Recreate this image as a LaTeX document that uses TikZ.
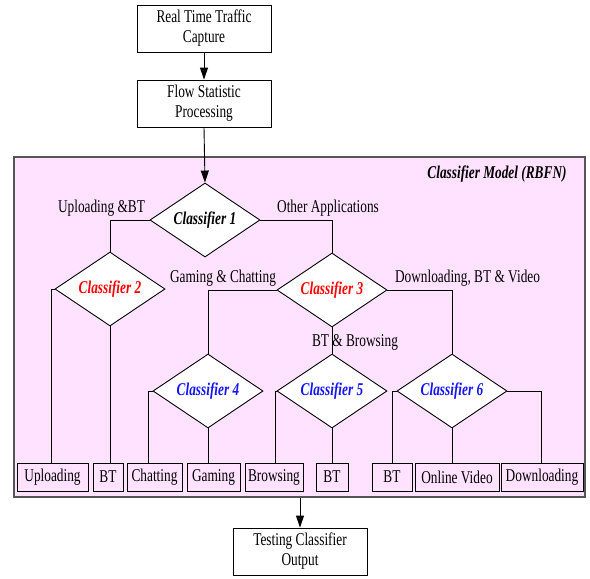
\documentclass[tikz,border=0pt]{standalone}
\usepackage{fontspec}
\setmainfont[FakeStretch=0.74]{Liberation Serif}
\usetikzlibrary{shapes.geometric,arrows.meta}
\definecolor{pinkbg}{RGB}{255,226,255}
\definecolor{framegray}{RGB}{85,85,85}
\definecolor{cred}{RGB}{255,0,0}
\definecolor{cblue}{RGB}{20,20,255}
\begin{document}
\begin{tikzpicture}[x=1pt,y=-1pt,
  font=\fontsize{18}{20}\selectfont,
  topbox/.style={draw=black,line width=0.9pt,fill=white,minimum width=134pt,minimum height=47pt,inner sep=0pt,align=center},
  leaf/.style={draw=black,line width=0.9pt,fill=pinkbg,minimum height=28pt,inner sep=0pt},
  dia/.style={diamond,draw=black,line width=0.9pt,fill=white,aspect=1.5,inner sep=0pt,minimum width=110pt,minimum height=74pt,font=\fontsize{18}{20}\selectfont\bfseries\itshape},
  lbl/.style={inner sep=0pt,anchor=center},
  conn/.style={draw=black,line width=0.9pt},
  arr/.style={draw=black,line width=0.9pt,-{Triangle[length=12pt,width=8pt]}}]
\useasboundingbox (0,0) rectangle (590,579);
% frame
\node[draw=framegray,line width=1.6pt,fill=pinkbg,minimum width=571pt,minimum height=340pt,inner sep=0pt] (frame) at (299.5,327) {};
\node[lbl,font=\fontsize{18}{20}\selectfont\bfseries\itshape] (title) at (497,174) {Classifier Model (RBFN)};
% top boxes
\node[topbox] (cap) at (204,28.5) {Real Time Traffic\\Capture};
\node[topbox] (flow) at (204,103.5) {Flow Statistic\\Processing};
\node[topbox] (test) at (300,551.5) {Testing Classifier\\Output};
% diamonds
\node[dia] (c1) at (205,220) {Classifier 1};
\node[dia,text=cred] (c2) at (110,289) {Classifier 2};
\node[dia,text=cred] (c3) at (332,290) {Classifier 3};
\node[dia,text=cblue] (c4) at (208,391) {Classifier 4};
\node[dia,text=cblue] (c5) at (332,391) {Classifier 5};
\node[dia,text=cblue] (c6) at (452,391) {Classifier 6};
% leaves
\node[leaf,minimum width=71pt] (up) at (52.5,477) {Uploading};
\node[leaf,minimum width=30pt] (bt1) at (108,477) {BT};
\node[leaf,minimum width=55pt] (chat) at (154.5,477) {Chatting};
\node[leaf,minimum width=53pt] (gam) at (213.5,477) {Gaming};
\node[leaf,minimum width=58pt] (brow) at (274,477) {Browsing};
\node[leaf,minimum width=32pt] (bt2) at (332,477) {BT};
\node[leaf,minimum width=40pt] (bt3) at (392,477) {BT};
\node[leaf,minimum width=84pt] (vid) at (457,477) {Online Video};
\node[leaf,minimum width=82pt] (down) at (542,477) {Downloading};
% labels
\node[lbl] (l1) at (101.5,208) {Uploading \&BT};
\node[lbl] (l2) at (328,208) {Other Applications};
\node[lbl] (l3) at (223,278) {Gaming \& Chatting};
\node[lbl] (l4) at (467.5,278) {Downloading, BT \& Video};
\node[lbl] (l5) at (355,342) {BT \& Browsing};
% arrows
\draw[arr] (cap.south) -- (flow.north);
\draw[arr] (flow.south) -- (c1.north);
\draw[arr] (300,0 |- frame.south) -- (300,0 |- test.north);
% connectors
\draw[conn] (c1.west) -| (c2.north);
\draw[conn] (c1.east) -| (c3.north);
\draw[conn] (c2.west) -| (51,0 |- up.north);
\draw[conn] (c2.south) -- (c2.south |- bt1.north);
\draw[conn] (c3.west) -| (c4.north);
\draw[conn] (c3.south) -- (c5.north);
\draw[conn] (c3.east) -| (c6.north);
\draw[conn] (c4.west) -| (148,0 |- chat.north);
\draw[conn] (c4.south) -- (c4.south |- gam.north);
\draw[conn] (c5.west) -| (275,0 |- brow.north);
\draw[conn] (c5.south) -- (c5.south |- bt2.north);
\draw[conn] (c6.west) -| (392,0 |- bt3.north);
\draw[conn] (c6.south) -- (c6.south |- vid.north);
\draw[conn] (c6.east) -| (541,0 |- down.north);
\end{tikzpicture}
\end{document}
